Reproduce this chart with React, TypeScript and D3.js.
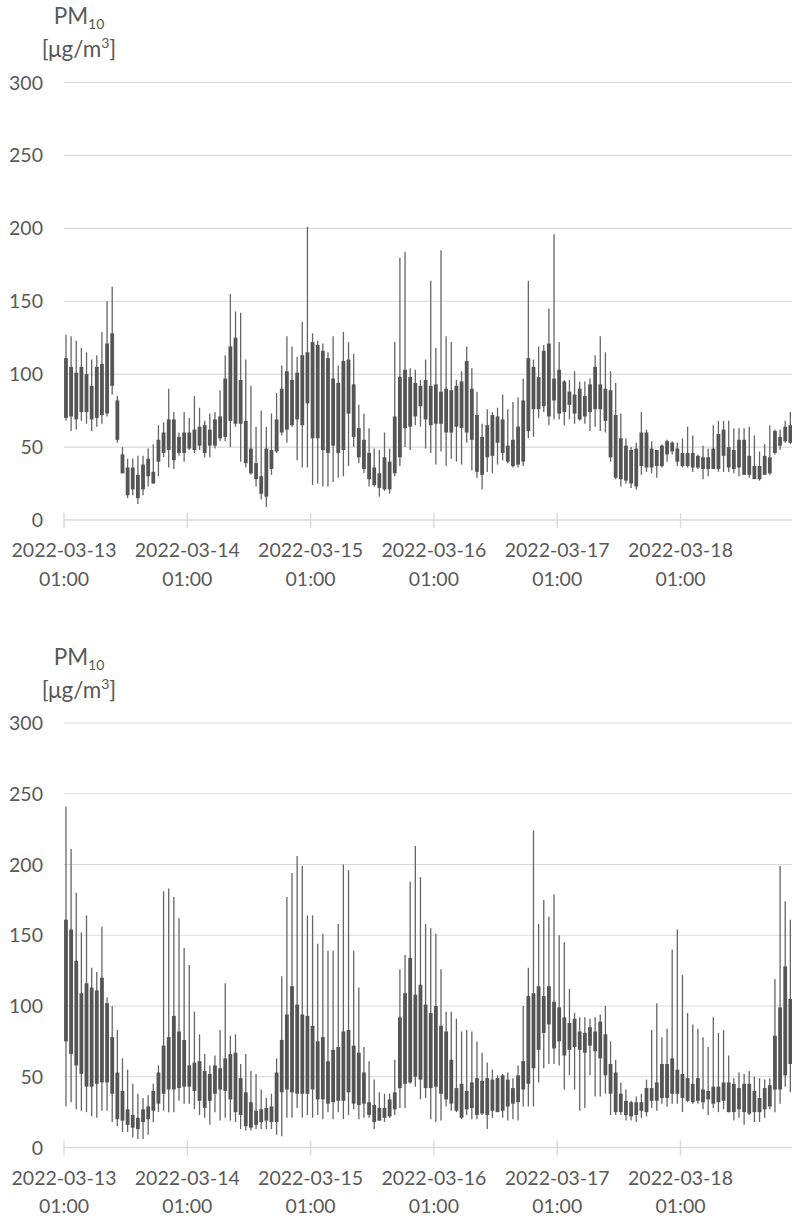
import React from "react";
import * as d3 from "d3";

// ---------- shared axis data ----------
const startTime = Date.UTC(2022, 2, 13, 1); // 2022-03-13 01:00
const HOUR = 3600 * 1000;
const dayTicks = [0, 1, 2, 3, 4, 5].map((d) => new Date(startTime + d * 24 * HOUR));
const yTicks = [0, 50, 100, 150, 200, 250, 300];

// ---------- top panel (hourly) ----------
const topHigh = [127,126,123,118,115,110,113,129,150,160,85,50,42,42,44,44,49,52,65,67,90,74,60,74,70,85,77,68,73,74,89,113,155,143,142,110,92,64,75,64,73,87,106,126,119,112,136,201,128,123,121,115,126,106,129,122,114,79,73,63,49,48,60,49,122,180,184,104,103,96,110,164,118,185,126,122,96,102,119,104,88,66,76,74,77,86,76,81,84,97,164,110,119,120,145,196,122,96,96,102,95,95,97,113,126,115,102,94,73,56,50,53,74,62,54,48,52,55,54,53,56,64,58,45,51,49,65,68,68,68,63,63,63,64,58,47,52,65,62,62,68,74];
const topLow = [68,61,62,68,66,61,64,66,71,86,53,32,15,17,11,17,23,25,30,43,36,35,44,40,48,46,48,43,43,49,54,54,50,64,40,36,31,23,14,9,31,46,58,53,64,41,36,36,24,25,23,23,26,29,30,37,50,39,32,23,23,16,20,18,30,37,50,48,65,64,49,46,38,47,37,42,40,38,53,34,29,21,33,32,38,41,39,36,36,37,56,57,70,74,65,69,69,65,69,66,68,66,61,64,61,60,40,28,23,25,22,21,31,33,32,29,36,40,45,37,36,36,33,35,28,30,35,33,33,33,32,30,31,29,28,27,31,31,45,48,53,52];
const topUpper = [111,105,101,105,100,92,105,107,121,128,82,45,36,36,31,38,42,33,55,60,69,69,57,60,60,62,64,65,62,69,71,97,119,125,96,68,49,39,30,49,48,69,90,102,96,101,113,115,122,120,116,111,97,94,109,110,93,63,55,46,36,32,43,40,71,98,103,98,94,92,96,92,93,88,90,89,92,95,109,90,72,57,65,72,71,69,51,55,64,82,111,105,98,116,121,97,103,95,88,86,90,85,93,105,93,90,89,72,56,51,48,49,60,60,49,48,51,54,53,49,46,46,46,44,43,43,49,59,62,50,48,55,55,44,37,37,44,43,61,57,64,65];
const topLower = [70,71,69,74,74,69,70,72,73,92,55,32,17,21,15,21,30,25,40,46,48,41,46,46,49,48,51,46,51,51,56,57,68,66,66,39,32,28,18,16,35,47,60,62,65,69,65,80,56,56,48,46,51,46,48,73,57,43,35,28,24,22,21,21,32,43,63,64,71,78,69,65,66,66,60,60,64,63,60,55,33,31,43,44,53,46,40,37,38,40,61,76,76,78,71,82,73,74,79,73,69,71,74,76,76,68,43,29,28,27,25,23,37,36,36,37,37,45,47,40,37,37,36,36,35,35,35,35,44,36,35,36,31,31,28,28,31,32,46,51,54,53];

// ---------- bottom panel (hourly) ----------
const botHigh = [241,211,180,152,164,127,124,156,106,100,83,63,55,45,38,35,37,45,58,181,183,177,162,141,129,96,80,66,58,65,83,116,79,80,59,66,54,52,41,35,38,63,121,177,194,206,199,164,164,144,151,139,139,158,200,196,139,113,71,61,48,39,38,38,62,126,136,188,213,191,158,155,151,126,96,96,91,82,83,82,75,67,60,55,51,52,53,49,58,100,127,224,158,175,163,179,150,145,112,95,92,92,91,92,94,100,75,62,46,41,33,36,38,48,83,102,78,84,140,154,122,95,87,84,78,71,92,81,83,65,49,53,52,54,50,49,48,49,119,199,174,161];
const botLow = [29,32,27,26,25,22,21,26,26,18,15,11,11,7,6,6,9,18,25,26,25,25,33,31,31,27,23,21,16,25,19,21,19,18,13,12,12,13,13,13,13,9,8,21,21,28,21,23,21,23,20,25,20,25,20,23,27,20,21,21,13,19,18,21,23,28,28,45,43,34,35,20,18,19,29,26,25,20,23,20,20,23,13,21,25,21,19,20,19,29,29,29,46,56,59,59,58,41,51,41,26,28,51,36,36,38,23,23,23,19,19,18,21,22,28,26,31,29,31,31,25,32,31,31,27,23,28,25,27,25,19,21,16,23,18,18,21,27,25,31,43,39];
const botUpper = [161,154,132,109,116,113,111,120,102,78,53,40,27,23,21,27,29,40,53,72,78,93,82,76,58,60,61,54,52,58,56,63,66,67,49,39,32,26,27,28,29,53,76,94,114,101,94,93,86,75,78,61,69,71,82,83,72,67,53,32,30,28,28,34,39,92,109,134,108,115,101,95,100,86,82,62,42,45,40,46,49,47,49,48,49,51,48,42,51,61,107,109,114,107,114,103,99,92,88,91,82,81,85,82,89,80,59,53,38,33,32,32,32,42,42,46,59,59,63,55,52,49,45,49,41,40,43,43,46,46,45,42,45,45,40,35,42,44,79,99,128,105];
const botLower = [75,66,58,52,43,43,45,46,46,38,20,19,16,14,13,18,20,26,31,38,41,41,42,43,43,40,33,28,33,38,41,40,34,25,23,15,14,16,18,19,18,18,39,41,39,38,38,38,41,34,34,31,32,33,33,39,31,30,31,23,18,19,21,22,27,42,45,46,50,48,42,42,43,38,34,31,26,21,27,28,23,24,23,26,25,26,29,31,32,41,45,56,69,81,87,70,75,65,69,71,69,67,72,68,63,51,38,25,25,23,22,23,26,25,33,33,35,35,38,38,35,33,32,33,32,34,31,32,33,25,25,27,25,24,25,25,27,29,41,41,51,59];

const FONT = "Lato, 'Open Sans', sans-serif";
const TEXT = "#595959";
const GRID = "#d9d9d9";

const x = d3
  .scaleUtc()
  .domain([new Date(startTime), new Date(startTime + 144 * HOUR)])
  .range([64, 64 + 144 * 5.1375]);
const fmtDate = d3.utcFormat("%Y-%m-%d");
const fmtTime = d3.utcFormat("%H:%M");

type PanelProps = {
  y0: number;
  y300: number;
  titleY: number;
  high: number[];
  low: number[];
  upper: number[];
  lower: number[];
};

function Panel({ y0, y300, titleY, high, low, upper, lower }: PanelProps) {
  const y = d3.scaleLinear().domain([0, 300]).range([y0, y300]);
  const boxW = 3.8;
  return (
    <g>
      {/* title */}
      <text x={79} y={titleY} textAnchor="middle" fill={TEXT} fontFamily={FONT} fontSize={22.5}>
        PM<tspan fontSize={14} dy={5}>10</tspan>
      </text>
      <text x={79} y={titleY + 33} textAnchor="middle" fill={TEXT} fontFamily={FONT} fontSize={22.5}>
        [μg/m<tspan fontSize={14} dy={-9}>3</tspan>
        <tspan dy={9}>]</tspan>
      </text>
      {/* grid + y labels */}
      {yTicks.map((v) => (
        <g key={v}>
          {v > 0 && <line x1={64} x2={792} y1={y(v)} y2={y(v)} stroke={GRID} strokeWidth={1.2} />}
          <text x={43} y={y(v)} dy="0.36em" textAnchor="end" fill={TEXT} fontFamily={FONT} fontSize={19.5}>
            {v}
          </text>
        </g>
      ))}
      {/* x axis */}
      <line x1={64} x2={792} y1={y0} y2={y0} stroke={GRID} strokeWidth={1.4} />
      {dayTicks.map((d, i) => (
        <g key={i}>
          <line x1={x(d)} x2={x(d)} y1={y0 - 7} y2={y0 + 8} stroke={GRID} strokeWidth={1.4} />
          <text x={x(d)} y={y0 + 37} textAnchor="middle" fill={TEXT} fontFamily={FONT} fontSize={19.5}>
            {fmtDate(d)}
          </text>
          <text x={x(d)} y={y0 + 65.5} textAnchor="middle" fill={TEXT} fontFamily={FONT} fontSize={19.5}>
            {fmtTime(d)}
          </text>
        </g>
      ))}
      {/* candles */}
      {high.map((h, i) => {
        const cx = x(new Date(startTime + (i + 0.5) * HOUR)) - 0.6;
        const top = Math.max(upper[i], lower[i]);
        const bot = Math.min(upper[i], lower[i]);
        return (
          <g key={i}>
            <line x1={cx} x2={cx} y1={y(h)} y2={y(low[i])} stroke="#656565" strokeWidth={1.3} />
            <rect x={cx - boxW / 2} y={y(top)} width={boxW} height={Math.max(1, y(bot) - y(top))} fill="#555555" />
          </g>
        );
      })}
    </g>
  );
}

export default function App() {
  return (
    <div style={{ position: "absolute", left: 0, top: 0 }}>
      <svg width={792} height={1219} style={{ display: "block", background: "#fff" }}>
        <Panel y0={520} y300={82.5} titleY={24} high={topHigh} low={topLow} upper={topUpper} lower={topLower} />
        <Panel y0={1147.5} y300={723} titleY={665} high={botHigh} low={botLow} upper={botUpper} lower={botLower} />
      </svg>
    </div>
  );
}
